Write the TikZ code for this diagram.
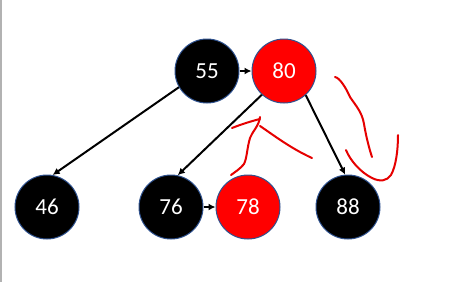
\documentclass[tikz,border=0pt]{standalone}
\usepackage{fontspec}
\setmainfont{Carlito}
\usetikzlibrary{arrows.meta}
\definecolor{rim}{RGB}{47,82,143}
\definecolor{ink}{RGB}{230,0,0}
\tikzset{
  rbnode/.style={circle, minimum size=64pt, inner sep=0pt, draw=rim, line width=1pt,
    text=white, font=\fontsize{23}{23}\selectfont},
  blk/.style={rbnode, fill=black},
  redn/.style={rbnode, fill=red},
  edge/.style={draw=black, line width=2pt, -{Latex[length=7pt,width=7pt]}},
  pen/.style={draw=ink, line width=2pt, line cap=round, line join=round}
}
\begin{document}
\begin{tikzpicture}[x=1pt,y=-1pt]
\useasboundingbox (0,0) rectangle (455,282);
\fill[white] (0,0) rectangle (455,282);
\fill[gray!60] (0,0) rectangle (1.5,282);
\node[blk]  (n55) at (207,71) {55};
\node[redn] (n80) at (284,71) {80};
\node[blk]  (n46) at (47,207) {46};
\node[blk]  (n76) at (171,207) {76};
\node[redn] (n78) at (248,207) {78};
\node[blk]  (n88) at (348,207) {88};
\draw[edge] (n55.east) -- (n80.west);
\draw[edge] (n76.east) -- (n78.west);
\draw[edge] (n55.210) -- (n46.80);
\draw[edge] (n80.227) -- (n76.78);
\draw[edge] (n80.312) -- (n88.95);
% handwritten marks
\draw[pen] (232,128) .. controls (242,124) and (252,121) .. (260,119);
\draw[pen] (260,117) .. controls (259,126) and (252,132) .. (250,138)
  .. controls (247,148) and (247,158) .. (244,164)
  .. controls (240,169) and (235,172) .. (231,175);
\draw[pen] (260,126) .. controls (272,134) and (290,148) .. (312,158);
\draw[pen] (335,77) .. controls (340,78) and (346,88) .. (350,97)
  .. controls (356,106) and (362,112) .. (364,124)
  .. controls (366,136) and (369,148) .. (372,157);
\draw[pen] (346,150) .. controls (350,160) and (360,172) .. (372,178)
  .. controls (380,182) and (387,181) .. (391,175)
  .. controls (396,166) and (398,150) .. (398,135);
\end{tikzpicture}
\end{document}
